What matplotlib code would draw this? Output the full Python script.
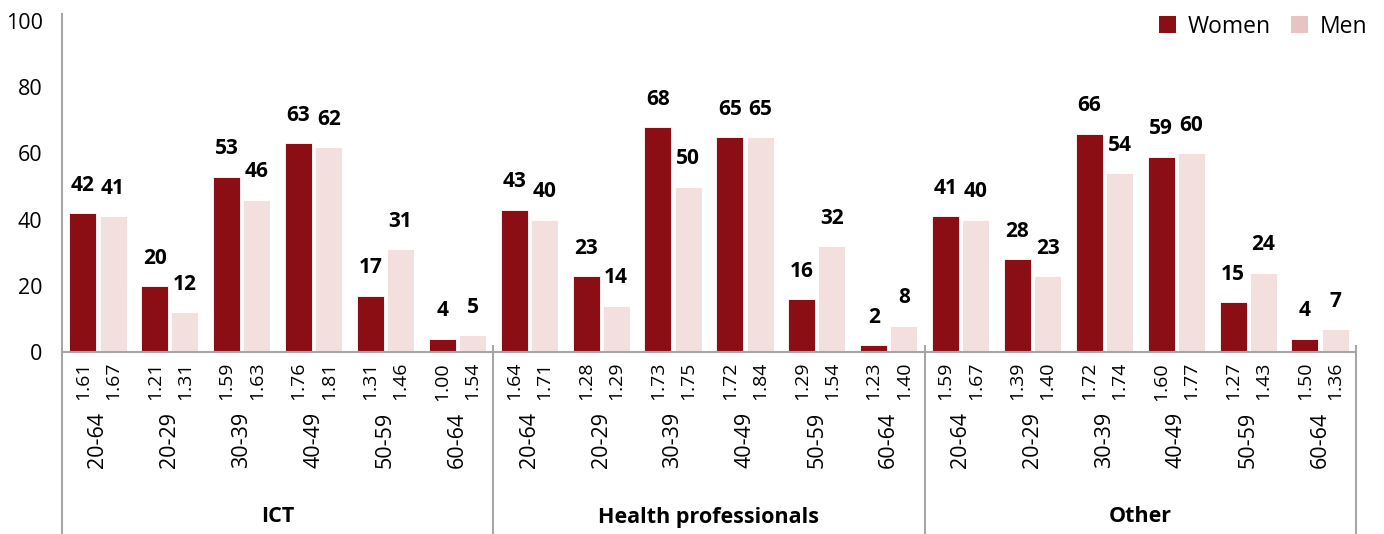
import matplotlib
matplotlib.use("Agg")
import matplotlib.pyplot as plt
from matplotlib.patches import Patch
from matplotlib.lines import Line2D
import numpy as np

plt.rcParams['font.family'] = ['Open Sans', 'DejaVu Sans']

categories = ["ICT", "Health professionals", "Other"]
age_groups = ["20-64", "20-29", "30-39", "40-49", "50-59", "60-64"]

women = [42, 20, 53, 63, 17, 4,
         43, 23, 68, 65, 16, 2,
         41, 28, 66, 59, 15, 4]
men = [41, 12, 46, 62, 31, 5,
       40, 14, 50, 65, 32, 8,
       40, 23, 54, 60, 24, 7]
women_ratio = ["1.61", "1.21", "1.59", "1.76", "1.31", "1.00",
               "1.64", "1.28", "1.73", "1.72", "1.29", "1.23",
               "1.59", "1.39", "1.72", "1.60", "1.27", "1.50"]
men_ratio = ["1.67", "1.31", "1.63", "1.81", "1.46", "1.54",
             "1.71", "1.29", "1.75", "1.84", "1.54", "1.40",
             "1.67", "1.40", "1.74", "1.77", "1.43", "1.36"]

C_WOMEN = "#8B0E14"
C_MEN = "#F4DFDF"
C_MEN_LEG = "#E8C3C3"
GRAY = "#A6A6A6"

W, H = 1384, 534
fig = plt.figure(figsize=(W / 100, H / 100), dpi=100)
ax_left, ax_right = 62 / W, 1356 / W
ax_bottom = 1 - 352 / H
ax_top = 1 - 14.4 / H
ax = fig.add_axes([ax_left, ax_bottom, ax_right - ax_left, ax_top - ax_bottom])

n = len(women)
x = np.arange(n)
bw = 0.375
off = 0.21
ax.bar(x - off, women, width=bw, color=C_WOMEN, edgecolor="white", linewidth=0.6, zorder=2)
ax.bar(x + off, men, width=bw, color=C_MEN, edgecolor="white", linewidth=0.6, zorder=2)

for xi, v in zip(x, women):
    ax.annotate(str(v), (xi - off, v), xytext=(0, 20), textcoords="offset points",
                ha="center", va="center", fontsize=15, fontweight="bold")
for xi, v in zip(x, men):
    ax.annotate(str(v), (xi + off, v), xytext=(0, 20), textcoords="offset points",
                ha="center", va="center", fontsize=15, fontweight="bold")

ax.set_xlim(-0.5, n - 0.5)
ax.set_ylim(0, 102)
ax.set_yticks([0, 20, 40, 60, 80, 100])
ax.tick_params(axis="y", length=0, pad=14, labelsize=15.5)
ax.tick_params(axis="x", length=0, labelbottom=False)
for s in ["top", "right"]:
    ax.spines[s].set_visible(False)
ax.spines["left"].set_visible(False)
ax.spines["bottom"].set_color(GRAY)
ax.spines["bottom"].set_linewidth(1.5)

axh = 352 - 14.4
def ay(px):
    # pixel row (from top of fig) -> axes y coordinate
    return (352 - px) / axh

trans = ax.get_xaxis_transform()
for xi in x:
    ax.text(xi - off, ay(362), women_ratio[xi], rotation=90, ha="center", va="top",
            fontsize=14, transform=trans, clip_on=False)
    ax.text(xi + off, ay(362), men_ratio[xi], rotation=90, ha="center", va="top",
            fontsize=14, transform=trans, clip_on=False)
    ax.text(xi, ay(412), age_groups[xi % 6], rotation=90, ha="center", va="top",
            fontsize=15.5, transform=trans, clip_on=False)

for ci, cat in enumerate(categories):
    ax.text(ci * 6 + 2.5, ay(517), cat, ha="center", va="center", fontsize=15.5,
            fontweight="bold", transform=trans, clip_on=False)

ax.add_line(Line2D([-0.5, -0.5], [ay(534), 1.0], color=GRAY, lw=1.5,
                   transform=trans, clip_on=False))
for b in [5.5, 11.5, 17.5]:
    ax.add_line(Line2D([b, b], [ay(534), ay(346)], color=GRAY, lw=1.5,
                       transform=trans, clip_on=False))

handles = [Patch(facecolor=C_WOMEN, edgecolor="none", label="Women"),
           Patch(facecolor=C_MEN_LEG, edgecolor="none", label="Men")]
fig.legend(handles=handles, loc="upper right", bbox_to_anchor=(1388 / W, 1 + 6 / H),
           ncol=2, frameon=False, fontsize=16.5, handlelength=0.75, handleheight=0.75,
           handletextpad=0.5, columnspacing=0.9)

fig.savefig("out.png", dpi=100)
